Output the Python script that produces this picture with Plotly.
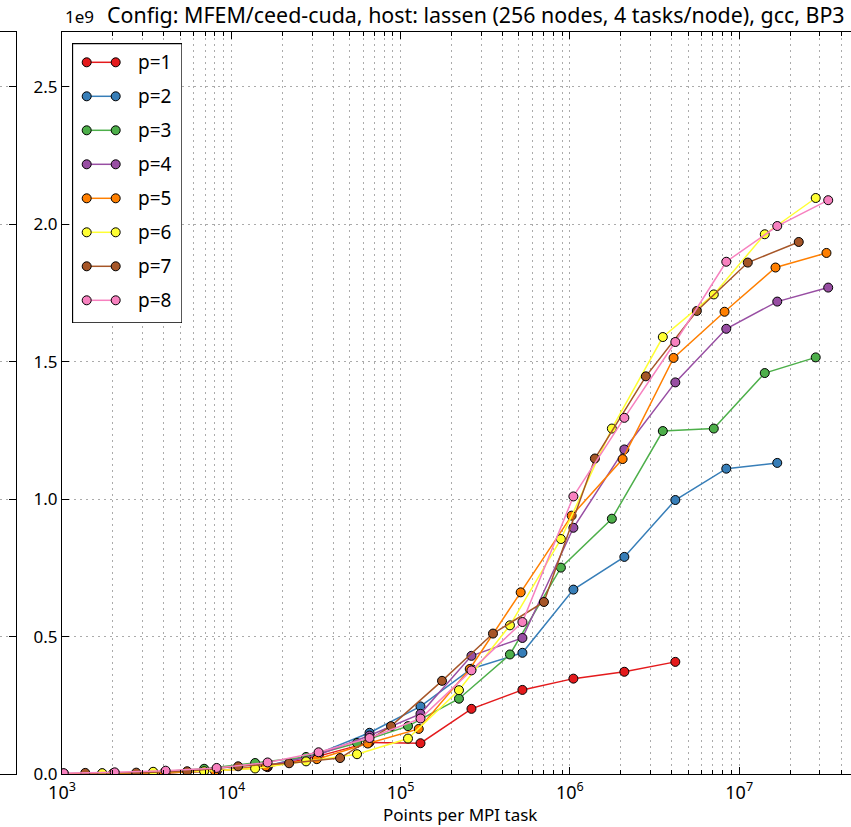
import plotly.graph_objects as go

# Points per MPI task for each polynomial order p
p1_x = [1024, 2048, 4096, 8192, 16384, 32768, 65536, 131072, 262144, 524288,
        1048576, 2097152, 4194304]
p2_x = [1024, 2048, 4096, 8192, 16384, 32768, 65536, 131072, 262144, 524288,
        1048576, 2097152, 4194304, 8388608, 16777216]
p3_x = [1728, 3456, 6912, 13824, 27648, 55296, 110592, 221184, 442368, 884736,
        1769472, 3538944, 7077888, 14155776, 28311552]
p4_x = [1024, 2048, 4096, 8192, 16384, 32768, 65536, 131072, 262144, 524288,
        1048576, 2097152, 4194304, 8388608, 16777216, 33554432]
p5_x = [1000, 2000, 4000, 8000, 16000, 32000, 64000, 128000, 256000, 512000,
        1024000, 2048000, 4096000, 8192000, 16384000, 32768000]
p6_x = [1728, 3456, 6912, 13824, 27648, 55296, 110592, 221184, 442368, 884736,
        1769472, 3538944, 7077888, 14155776, 28311552]
p7_x = [1372, 2744, 5488, 10976, 21952, 43904, 87808, 175616, 351232, 702464,
        1404928, 2809856, 5619712, 11239424, 22478848]
p8_x = [1024, 2048, 4096, 8192, 16384, 32768, 65536, 131072, 262144, 524288,
        1048576, 2097152, 4194304, 8388608, 16777216, 33554432]

# Throughput, in units of 1e9
p1_y = [0.001, 0.002, 0.005, 0.012, 0.025, 0.065, 0.115, 0.112, 0.237, 0.306,
        0.347, 0.372, 0.408]
p2_y = [0.001, 0.002, 0.005, 0.012, 0.030, 0.075, 0.150, 0.246, 0.383, 0.441,
        0.671, 0.790, 0.997, 1.111, 1.132]
p3_y = [0.002, 0.006, 0.019, 0.040, 0.062, 0.113, 0.174, 0.274, 0.435, 0.751,
        0.929, 1.248, 1.257, 1.459, 1.516]
p4_y = [0.001, 0.002, 0.005, 0.012, 0.030, 0.070, 0.140, 0.219, 0.430, 0.495,
        0.896, 1.181, 1.425, 1.620, 1.719, 1.770]
p5_y = [0.001, 0.002, 0.004, 0.011, 0.028, 0.054, 0.111, 0.164, 0.382, 0.661,
        0.940, 1.146, 1.514, 1.682, 1.843, 1.896]
p6_y = [0.003, 0.008, 0.010, 0.020, 0.046, 0.072, 0.129, 0.305, 0.541, 0.855,
        1.257, 1.590, 1.745, 1.964, 2.096]
p7_y = [0.004, 0.005, 0.010, 0.028, 0.039, 0.058, 0.174, 0.339, 0.511, 0.626,
        1.148, 1.447, 1.685, 1.861, 1.936]
p8_y = [0.003, 0.006, 0.012, 0.022, 0.042, 0.079, 0.131, 0.202, 0.377, 0.553,
        1.010, 1.296, 1.572, 1.864, 1.994, 2.088]

series_names = ["p=1", "p=2", "p=3", "p=4", "p=5", "p=6", "p=7", "p=8"]
series_x = [p1_x, p2_x, p3_x, p4_x, p5_x, p6_x, p7_x, p8_x]
series_y = [p1_y, p2_y, p3_y, p4_y, p5_y, p6_y, p7_y, p8_y]
colors = ["#e41a1c", "#377eb8", "#4daf4a", "#984ea3",
          "#ff7f00", "#ffff33", "#a65628", "#f781bf"]

x_ticks = [1e3, 1e4, 1e5, 1e6, 1e7]
x_ticktext = ["10<sup>3</sup>", "10<sup>4</sup>", "10<sup>5</sup>",
              "10<sup>6</sup>", "10<sup>7</sup>"]
x_minor = [m * 10 ** e for e in range(3, 8) for m in range(2, 10)]

title_text = "Config: MFEM/ceed-cuda, host: lassen (256 nodes, 4 tasks/node), gcc, BP3"
xlabel_text = "Points per MPI task"

W, H = 851, 827
ML, MT, MB = 0, 32, 53
PH = H - MT - MB
AX_LEFT = 62
DECADE = 169.3
GRID = dict(showgrid=True, gridcolor="#ababab", gridwidth=1, griddash="2px,4px")
FONT = "Noto Sans"


def ypaper(px):
    return (H - MB - px) / PH


fig = go.Figure()

for name, xs, ys, c in zip(series_names, series_x, series_y, colors):
    fig.add_trace(go.Scatter(
        x=xs, y=ys, name=name, mode="lines+markers",
        line=dict(color=c, width=1.5),
        marker=dict(color=c, size=9, line=dict(color="black", width=1)),
        xaxis="x", yaxis="y", showlegend=False,
    ))

# neighbouring panel edge on the left
fig.add_trace(go.Scatter(x=[], y=[], xaxis="x2", yaxis="y2", showlegend=False))

# legend box: sample lines with a marker at both ends
LEG_X0, LEG_X1, LEG_Y0, LEG_Y1 = 72, 182, 43, 323
for i, (name, c) in enumerate(zip(series_names, colors)):
    yy = -(62.3 + 34 * i)
    fig.add_trace(go.Scatter(
        x=[86.7, 115.7], y=[yy, yy], mode="lines+markers",
        line=dict(color=c, width=1.5),
        marker=dict(color=c, size=9, line=dict(color="black", width=1)),
        xaxis="x3", yaxis="y3", showlegend=False, cliponaxis=False,
    ))
    fig.add_annotation(x=136, y=yy, xref="x3", yref="y3", text=name,
                       showarrow=False, xanchor="left", yanchor="middle",
                       font=dict(size=19, family=FONT, color="black"))
fig.add_shape(type="rect", xref="x3", yref="y3",
              x0=LEG_X0 + 0.5, x1=LEG_X1, y0=-LEG_Y1, y1=-LEG_Y0 - 0.5,
              line=dict(color="black", width=1.3), fillcolor="white",
              layer="between")

fig.update_layout(
    width=W, height=H,
    margin=dict(l=ML, r=0, t=MT, b=MB, autoexpand=False),
    paper_bgcolor="white", plot_bgcolor="white",
    showlegend=False,
    font=dict(family=FONT, color="black"),
    xaxis=dict(
        domain=[AX_LEFT / W, 1], anchor="y", type="log",
        range=[3, 3 + (W - AX_LEFT) / DECADE],
        tickmode="array", tickvals=x_ticks, ticktext=x_ticktext,
        ticks="inside", ticklen=7, tickwidth=1, tickcolor="black",
        tickfont=dict(size=18), ticklabelstandoff=2,
        showline=True, linecolor="black", linewidth=1.3,
        mirror="ticks", zeroline=False,
        minor=dict(tickvals=x_minor, ticks="inside", ticklen=4, tickcolor="black",
                   **GRID),
        automargin=False, **GRID,
    ),
    yaxis=dict(
        domain=[0, 1], anchor="x", range=[0, 2.7], tick0=0, dtick=0.5,
        tickformat=".1f", ticks="inside", ticklen=7, tickwidth=1, tickcolor="black",
        tickfont=dict(size=17), showline=True, linecolor="black", linewidth=1.3,
        mirror=False, zeroline=False, automargin=False, **GRID,
    ),
    xaxis2=dict(
        domain=[0, 16 / W], anchor="y2", range=[0, 1], showline=True,
        linecolor="black", linewidth=1.3, mirror=True, ticks="",
        showticklabels=False, showgrid=False, zeroline=False,
    ),
    yaxis2=dict(
        domain=[0, 1], anchor="x2", side="right", range=[0, 2.7], tick0=0, dtick=0.5,
        ticks="inside", ticklen=7, tickcolor="black", showticklabels=False,
        showline=True, linecolor="black", linewidth=1.3, mirror=True,
        zeroline=False, **GRID,
    ),
    xaxis3=dict(
        domain=[LEG_X0 / W, LEG_X1 / W], anchor="y3", range=[LEG_X0, LEG_X1],
        visible=False, fixedrange=True,
    ),
    yaxis3=dict(
        domain=[ypaper(LEG_Y1), ypaper(LEG_Y0)], anchor="x3",
        range=[-LEG_Y1, -LEG_Y0], visible=False, fixedrange=True,
    ),
)

fig.add_annotation(x=476 / W, y=ypaper(15), xref="paper", yref="paper",
                   text=title_text, showarrow=False, xanchor="center",
                   yanchor="middle", font=dict(size=21.4, family=FONT))
fig.add_annotation(x=(AX_LEFT + 1) / W, y=ypaper(16), xref="paper", yref="paper",
                   text="1e9", showarrow=False, xanchor="left", yanchor="middle",
                   font=dict(size=17, family=FONT))
fig.add_annotation(x=460 / W, y=ypaper(815), xref="paper", yref="paper",
                   text=xlabel_text, showarrow=False, xanchor="center",
                   yanchor="middle", borderpad=0, font=dict(size=17, family=FONT))

fig.write_html("out.html")
